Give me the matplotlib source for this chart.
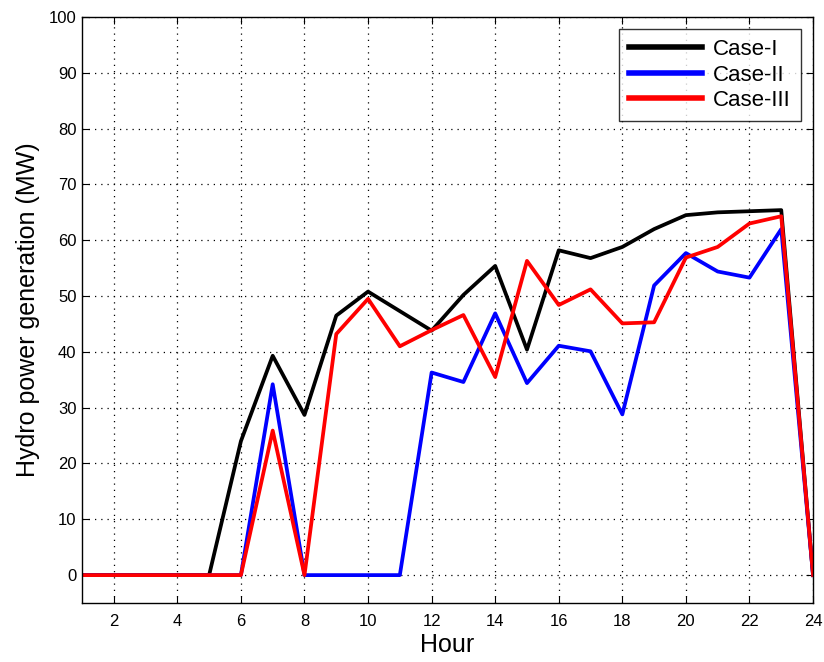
import matplotlib
matplotlib.use("Agg")
import matplotlib.pyplot as plt

hours = list(range(1, 25))
case1 = [0, 0, 0, 0, 0, 24.0, 39.3, 28.7, 46.5, 50.8, 47.3, 43.8,
         50.2, 55.4, 40.4, 58.2, 56.8, 58.8, 62.0, 64.5, 65.0, 65.2, 65.4, 0]
case2 = [0, 0, 0, 0, 0, 0, 34.2, 0, 0, 0, 0, 36.3,
         34.6, 46.9, 34.4, 41.1, 40.1, 28.8, 51.9, 57.7, 54.4, 53.3, 62.0, 0]
case3 = [0, 0, 0, 0, 0, 0, 25.9, 0, 43.2, 49.5, 41.0, 43.9,
         46.6, 35.5, 56.3, 48.4, 51.2, 45.1, 45.3, 56.9, 58.8, 63.0, 64.3, 0]
labels = ["Case-I", "Case-II", "Case-III"]
xticks = list(range(2, 25, 2))
yticks = list(range(0, 101, 10))

plt.rcParams['font.family'] = ['Liberation Sans', 'DejaVu Sans']
fig = plt.figure(figsize=(8.24, 6.62), dpi=100)
ax = fig.add_axes([0.0995, 0.0891, 0.8872, 0.8852])

ax.plot(hours, case1, color='black', lw=2.7, label=labels[0])
ax.plot(hours, case2, color='#0000ff', lw=2.7, label=labels[1])
ax.plot(hours, case3, color='#ff0000', lw=2.7, label=labels[2])

ax.set_xlim(1, 24)
ax.set_ylim(-5, 100)
ax.set_xticks(xticks)
ax.set_yticks(yticks)
ax.tick_params(direction='in', labelsize=12, length=5, top=True, right=True)
ax.tick_params(axis='x', pad=8)
ax.tick_params(axis='y', pad=4)
ax.grid(True, color='black', linestyle=(0, (1, 4)), linewidth=0.9)
for s in ax.spines.values():
    s.set_linewidth(1.0)
ax.set_xlabel("Hour", fontsize=18, labelpad=3)
ax.set_ylabel("Hydro power generation (MW)", fontsize=18, labelpad=6)

leg = ax.legend(loc='upper right', fontsize=16, handlelength=3.3, frameon=True,
                fancybox=False, edgecolor='black', borderaxespad=0.55,
                labelspacing=0.2, handletextpad=0.5, borderpad=0.45)
leg.get_frame().set_linewidth(1.0)
for line in leg.get_lines():
    line.set_linewidth(4.0)

fig.savefig("out.png", dpi=100)
